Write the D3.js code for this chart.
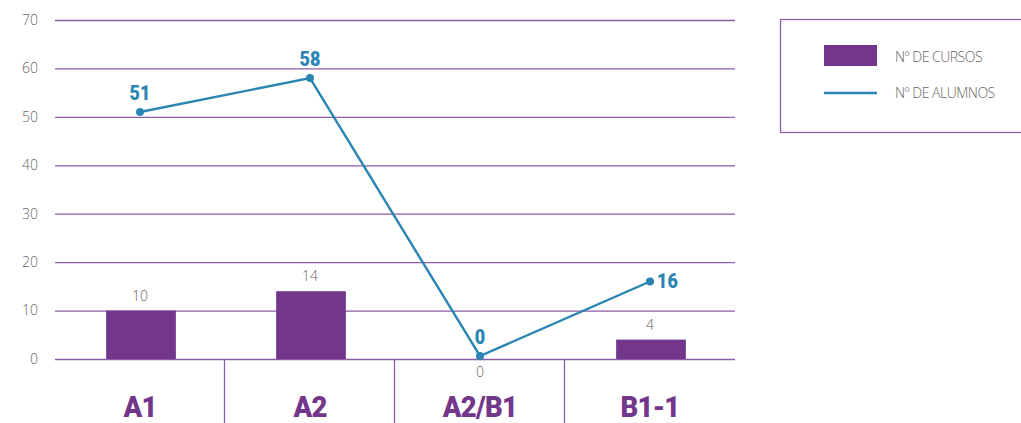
<!DOCTYPE html>
<html><head><meta charset="utf-8">
<script src="https://cdn.jsdelivr.net/npm/d3@7/dist/d3.min.js"></script>
<style>
html,body{margin:0;padding:0;background:#fff;}
svg{display:block;}
</style></head>
<body>
<svg id="chart" width="1021" height="423"></svg>
<script>
const categories = ["A1", "A2", "A2/B1", "B1-1"];
const cursos = [10, 14, 0, 4];
const alumnos = [51, 58, 0, 16];
const yTicks = [0, 10, 20, 30, 40, 50, 60, 70];
const legendLabels = ["Nº DE CURSOS", "Nº DE ALUMNOS"];

const purple = "#72368a", blue = "#2a85b2", grid = "#8d5ba8", grey = "#666";
const svg = d3.select("#chart");
const x = d3.scaleBand().domain(categories).range([55, 735]).paddingInner(0).paddingOuter(0);
const y = d3.scaleLinear().domain([0, 70]).range([359, 20]);
const font = "'Open Sans', 'Noto Sans', sans-serif";
const boldFont = "'Roboto', sans-serif";
const cx = d => x(d) + x.bandwidth() / 2;

// gridlines
svg.append("g").selectAll("line").data(yTicks).join("line")
  .attr("x1", 55).attr("x2", 735)
  .attr("y1", d => y(d) + 0.5).attr("y2", d => y(d) + 0.5)
  .attr("stroke", grid).attr("stroke-width", 1.3);

// y labels
svg.append("g").selectAll("text").data(yTicks).join("text")
  .attr("x", 38).attr("y", d => y(d)).attr("dy", "0.35em")
  .attr("text-anchor", "end").attr("font-family", font).attr("font-size", 14)
  .attr("font-weight", 300).attr("fill", grey).text(d => d);

// category dividers
svg.append("g").selectAll("line").data(categories.slice(1)).join("line")
  .attr("x1", d => Math.round(x(d)) - 0.5).attr("x2", d => Math.round(x(d)) - 0.5)
  .attr("y1", y(0)).attr("y2", 423)
  .attr("stroke", grid).attr("stroke-width", 1.3);

// category labels
svg.append("g").selectAll("text").data(categories).join("text")
  .attr("transform", d => `translate(${cx(d)},417) scale(0.95,1)`)
  .attr("text-anchor", "middle").attr("font-family", boldFont).attr("font-size", 29)
  .attr("font-weight", 900).attr("fill", purple).attr("letter-spacing", -0.8).text(d => d);

// bars
const bw = x.bandwidth() * 0.41;
svg.append("g").selectAll("rect").data(categories).join("rect")
  .attr("x", d => cx(d) - bw / 2 + 1)
  .attr("width", bw)
  .attr("y", (d, i) => y(cursos[i]))
  .attr("height", (d, i) => y(0) - y(cursos[i]))
  .attr("fill", purple);

// bar labels
svg.append("g").selectAll("text").data(categories).join("text")
  .attr("x", d => cx(d))
  .attr("y", (d, i) => cursos[i] === 0 ? y(0) + 18 : y(cursos[i]) - 10)
  .attr("text-anchor", "middle").attr("font-family", font).attr("font-size", 14)
  .attr("font-weight", 300).attr("fill", grey).text((d, i) => cursos[i]);

// line
const line = d3.line().x((d, i) => cx(categories[i])).y(d => y(d) - (d === 0 ? 3 : 0));
svg.append("path").datum(alumnos).attr("d", line)
  .attr("fill", "none").attr("stroke", blue).attr("stroke-width", 2.4);
svg.append("g").selectAll("circle").data(alumnos).join("circle")
  .attr("cx", (d, i) => cx(categories[i])).attr("cy", d => y(d) - (d === 0 ? 3 : 0))
  .attr("r", 4).attr("fill", blue);

// line labels
svg.append("g").selectAll("text").data(alumnos).join("text")
  .attr("transform", (d, i) => i === 3
      ? `translate(${cx(categories[i]) + 7},${y(d) + 6}) scale(0.9,1)`
      : `translate(${cx(categories[i])},${y(d) - 12 - (d === 0 ? 3 : 0)}) scale(0.9,1)`)
  .attr("text-anchor", (d, i) => i === 3 ? "start" : "middle")
  .attr("font-family", boldFont).attr("font-size", 20).attr("font-weight", 900)
  .attr("fill", blue).text(d => d);

// legend
const lg = svg.append("g");
lg.append("rect").attr("x", 780.5).attr("y", 19.5).attr("width", 260).attr("height", 113)
  .attr("fill", "none").attr("stroke", grid).attr("stroke-width", 1.3);
lg.append("rect").attr("x", 824).attr("y", 45).attr("width", 53).attr("height", 21).attr("fill", purple);
lg.append("line").attr("x1", 824).attr("x2", 877).attr("y1", 93).attr("y2", 93)
  .attr("stroke", blue).attr("stroke-width", 2.4);
lg.selectAll("text.l").data(legendLabels).join("text").attr("class", "l")
  .attr("x", 895).attr("y", (d, i) => i === 0 ? 57 : 93).attr("dy", "0.35em")
  .attr("font-family", font).attr("font-size", 14).attr("font-weight", 300)
  .attr("fill", grey).attr("letter-spacing", -0.5).text(d => d);
</script>
</body></html>
